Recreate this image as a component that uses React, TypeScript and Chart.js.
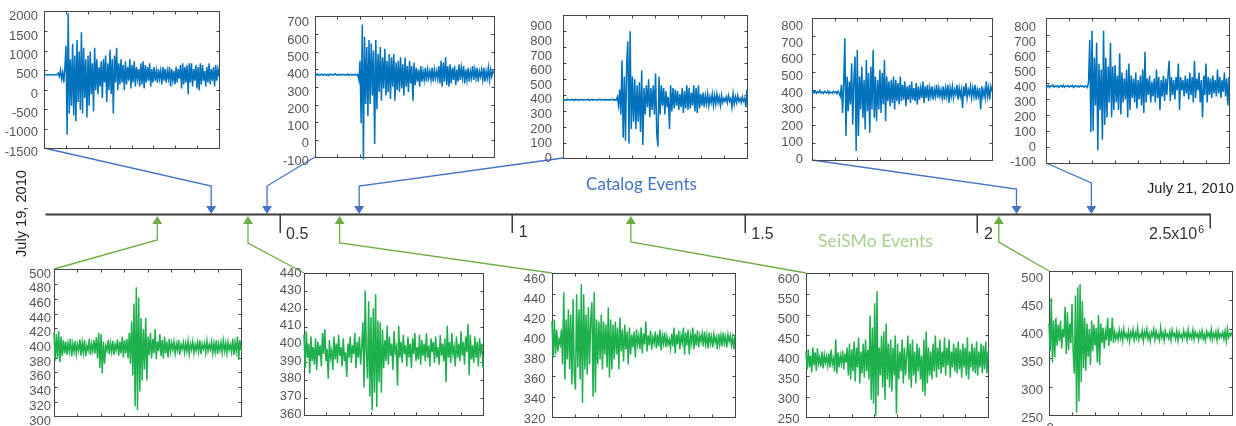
import React, { useEffect, useRef } from "react";
import { Chart, registerables } from "chart.js";

Chart.register(...registerables);

const PAGE_W = 1236;
const PAGE_H = 426;

// ---------------- Timeline data ----------------
const TIMELINE_MIN = 0;
const TIMELINE_MAX = 2.5e6;
const TIMELINE_TICKS = [0.5e6, 1e6, 1.5e6, 2e6, 2.5e6];
const TIMELINE_TICK_LABELS = ["0.5", "1", "1.5", "2", "2.5x10"];
const TIMELINE_EXPONENT = "6";
const CATALOG_EVENTS = [0.353e6, 0.473e6, 0.671e6, 2.084e6, 2.245e6];
const SEISMO_EVENTS = [0.237e6, 0.432e6, 0.629e6, 1.255e6, 2.046e6];
const CATALOG_LABEL = "Catalog Events";
const SEISMO_LABEL = "SeiSMo Events";
const START_DATE = "July 19, 2010";
const END_DATE = "July 21, 2010";

// ---------------- Waveforms: catalog events (top row) ----------------
const CATALOG_WAVE_1 = [
  500, 503, 497, 501, 499, 502, 498, 500, 504, 497,
  501, 499, 502, 540, 460, 620, 400, 560, 300, 700,
  1250, -1050, 2090, -500, 900, -300, 1300, -550, 1000, -700,
  1400, -200, 1100, -400, 1600, -500, 1200, -100, 900, -600,
  1000, -300, 1100, 0, 800, -450, 1200, 100, 900, 0,
  700, 200, 850, -100, 900, 300, 1000, -200, 800, 100,
  1150, 0, 900, -500, 1000, 300, 1200, 100, 800, 250,
  900, 300, 750, 100, 850, 250, 700, 350, 900, 150,
  750, 300, 850, 200, 700, 400, 650, 200, 800, 250,
  850, 150, 750, 300, 700, 350, 800, 200, 650, 300,
  700, 350, 600, 300, 650, 400, 600, 250, 700, 350,
  650, 300, 600, 400, 700, 200, 650, 350, 600, 250,
  700, 300, 650, 400, 750, 150, 800, 250, 700, 300,
  750, 0, 800, 300, 800, 200, 650, 350, 750, 150,
  700, 100, 800, 250, 750, 350, 600, 200, 700, 300,
  800, 250, 650, 350, 700, 200, 750, 350, 650, 450,
];
const CATALOG_WAVE_2 = [
  402, 398, 405, 396, 401, 399, 404, 397, 400, 403,
  398, 401, 396, 404, 399, 402, 397, 400, 405, 398,
  401, 399, 403, 396, 400, 402, 398, 401, 399, 404,
  397, 400, 402, 398, 401, 399, 403, 396, 400,
  370, 480, 120, 690, -90, 620, 230, 560, 160, 600, 230,
  580, 280, 540, 0, 600, 200, 520, 300, 560, 250,
  500, 320, 550, 280, 480, 300, 520, 260, 500, 330,
  520, 250, 470, 310, 480, 300, 500, 320, 460, 280,
  500, 330, 450, 300, 480, 350, 450, 250, 470, 340,
  440, 360, 430, 330, 450, 360, 420, 370, 440, 360,
  430, 380, 420, 370, 440, 360, 430, 380, 420, 375,
  450, 350, 480, 330, 470, 360, 500, 340, 450, 330,
  460, 350, 440, 370, 450, 340, 430, 360, 460, 370,
  440, 380, 450, 350, 430, 370, 440, 360, 420, 380,
  450, 370, 430, 380, 440, 360, 420, 390, 430, 370,
  440, 360, 420, 380, 440, 370, 430, 390, 420, 410,
];
const CATALOG_WAVE_3 = [
  405, 398, 402, 396, 404, 400, 397, 403, 399, 401,
  396, 404, 400, 398, 402, 397, 401, 403, 398, 400,
  402, 399, 404, 396, 400, 403, 398, 401, 399, 402,
  397, 401, 404, 398, 400, 402, 396, 403, 399, 401,
  398, 402, 400, 404, 397, 401, 399,
  420, 360, 470, 300, 670, 140, 560, 120, 640, 800,
  100, 870, 200, 560, 250, 540, 200, 500, 250, 520,
  180, 600, 90, 480, 300, 500, 350, 540, 280, 480,
  330, 500, 300, 580, 170, 80, 560, 300, 500, 360,
  480, 300, 460, 350, 420, 200, 500, 320, 480, 340,
  470, 360, 460, 330, 440, 350, 480, 310, 460, 340,
  500, 330, 480, 340, 450, 360, 500, 320, 480, 310,
  500, 340, 440, 360, 450, 350, 430, 370, 440, 360,
  420, 380, 440, 360, 430, 370, 440, 380, 420, 360,
  430, 380, 410, 390, 420, 380, 430, 390, 410, 350,
  440, 370, 420, 380, 430, 390, 410, 380, 420, 390,
  410, 350, 470,
];
const CATALOG_WAVE_4 = [
  405, 410, 400, 412, 398, 408, 402, 415, 400, 406,
  398, 410, 404, 400, 412, 396, 407, 403, 398, 410,
  402, 408, 395, 412, 400,
  380, 450, 280, 460, 730, 140, 500, 290, 470, 330,
  580, 210, 480, 620, 50, 660, 140, 500, 300, 560,
  250, 480, 180, 600, 290, 520, 160, 560, 300, 660,
  250, 500, 230, 480, 300, 540, 280, 520, 330, 600,
  230, 500, 350, 470, 320, 480, 340, 500, 300, 480,
  350, 460, 330, 500, 350, 450, 360, 470, 320, 440,
  360, 450, 340, 470, 360, 430, 350, 460, 330, 440,
  360, 430, 370, 470, 340, 440, 370, 450, 350, 430,
  380, 440, 360, 420, 380, 450, 370, 430, 380, 420,
  370, 440, 360, 430, 380, 450, 340, 430, 380, 440,
  370, 420, 390, 450, 360, 430, 380, 420, 310, 440,
  380, 460, 370, 420, 390, 440, 370, 430, 380, 450,
  360, 420, 380, 430, 300, 440, 380, 420, 370, 470,
  380, 430, 360, 440, 410,
];
const CATALOG_WAVE_5 = [
  410, 405, 415, 400, 412, 408, 418, 402, 410, 406,
  414, 400, 409, 412, 404, 416, 402, 410, 407, 413,
  403, 411, 406, 415, 400, 409, 413, 405, 410, 404,
  412, 406, 410, 402, 411, 408,
  400, 440, 720, 100, 780, 110, 600, 280, 700, -20,
  560, 250, 520, 50, 780, 150, 600, 200, 540, 300,
  700, 200, 540, 250, 550, 300, 480, 250, 630, 220,
  500, 300, 460, 320, 520, 200, 560, 250, 480, 330,
  460, 300, 500, 260, 450, 320, 480, 280, 520, 230,
  640, 300, 460, 350, 480, 300, 440, 340, 460, 300,
  520, 330, 470, 250, 450, 340, 480, 310, 460, 350,
  480, 580, 310, 470, 350, 450, 320, 470, 380, 560,
  250, 470, 380, 450, 340, 480, 360, 460, 320, 500,
  350, 470, 300, 580, 330, 460, 380, 500, 300, 450,
  200, 480, 350, 560, 300, 470, 350, 460, 330, 480,
  360, 450, 340, 520, 360, 470, 330, 450, 370, 500,
  340, 460, 280, 470,
];

// ---------------- Waveforms: SeiSMo events (bottom row) ----------------
const SEISMO_WAVE_1 = [
  420, 382, 418, 385, 422, 380, 415, 388,
  410, 392, 408, 390, 406, 395, 412, 388, 405, 394, 409, 391, 404,
  396, 411, 389, 407, 393, 410, 388, 402, 396, 412, 390, 405, 395, 410, 392,
  414, 385, 420, 372, 418, 365, 408, 378, 402,
  396, 410, 391, 406, 394, 409, 390, 404, 397, 411, 389, 408, 392, 415, 386, 410,
  392, 412, 385, 420, 378, 435, 362, 460, 320, 482, 315, 468, 340, 440, 355, 425,
  370, 440, 355, 415,
  390, 420, 385, 412, 392, 425, 384, 408, 395, 418, 388, 410, 385, 415, 392, 408,
  386, 412, 394, 406,
  397, 408, 392, 405, 396, 410, 390, 404, 398, 407, 393, 406, 395, 409, 391, 405,
  397, 408, 392, 404, 396, 407, 394, 410, 391, 405, 398, 406, 393, 409, 395, 404,
  397, 408, 392, 406, 394, 410, 391, 405, 396, 407, 393, 409, 395, 406, 392, 408,
  397, 404, 394, 412, 390, 407, 395, 415, 383, 410, 396,
];
const SEISMO_WAVE_2 = [
  405, 386, 407, 392, 400, 383, 404, 390, 398, 388,
  403, 385, 401, 393, 399, 387, 406, 394, 408, 390,
  397, 380, 402, 392, 396, 385, 404, 391, 400, 389,
  405, 393, 398, 387, 403, 390, 395, 381, 400, 392,
  404, 389, 399, 394, 406, 386, 401, 392, 404, 388,
  398, 412, 375, 430, 395, 380, 424, 370, 415, 362,
  420, 372, 428, 364, 413, 378, 412, 372, 408, 386,
  402, 390, 410, 388, 404, 393, 400, 385, 407, 395,
  398, 376, 410, 392, 401, 389, 405, 394, 399, 387,
  404, 392, 400, 386, 403, 394, 406, 390, 398, 391,
  405, 388, 402, 393, 400, 390, 406, 392, 399, 387,
  403, 395, 401, 389, 404, 392, 398, 388, 405, 393,
  400, 390, 403, 378, 410, 392, 401, 389, 406, 394,
  398, 387, 404, 392, 400, 390, 407, 393, 401, 388,
  404, 395, 411, 382, 405, 391, 399, 389, 404, 392,
  401, 387, 403, 395, 400, 386,
];
const SEISMO_WAVE_3 = [
  418, 382, 420, 385, 410, 388, 400,
  395, 410, 375, 447, 360, 420, 380, 430, 370, 425, 355, 440, 365,
  350, 445, 372, 430, 360, 455, 337, 445, 370, 425, 365, 432, 375, 420,
  437, 343, 447, 347, 420, 375, 418, 380, 425, 370, 418, 385, 415, 372,
  432, 362, 420, 370,
  415, 380, 418, 385, 412, 370, 422, 388, 410, 378, 415, 390, 408, 375, 412, 385, 405,
  392, 408, 382, 410, 395, 404, 390, 412, 386, 406, 395, 418, 388, 404, 394, 409,
  390, 402, 396, 408, 391, 405, 393, 410, 389, 404, 396, 407, 392, 403, 395, 400,
  391, 406, 393, 412, 386, 405, 395, 409, 390, 404, 397, 412, 385, 407, 394, 410,
  385, 404, 396, 412, 390, 406, 394, 409, 392, 404, 398, 406, 393, 408, 395, 404,
  391, 407, 396, 403, 392, 405, 397, 402, 390, 406, 395, 404, 393, 407, 396, 403,
  392, 405, 398, 404, 394, 402, 390, 405,
];
const SEISMO_WAVE_4 = [
  420, 375, 425, 380, 410, 368, 430, 385, 418, 372,
  428, 390, 405, 382, 420, 378, 412, 392, 408, 385,
  415, 380, 425, 388, 402, 370, 450, 365, 418, 380,
  410, 390, 422, 375, 415, 392,
  430, 360, 440, 350, 425, 370, 445, 345, 430, 380,
  455, 340, 420, 365, 440, 355, 450, 370, 425, 350,
  510, 300, 480, 290, 540, 260, 570, 310,
  430, 360, 460, 330, 470, 300, 490, 350, 440, 330,
  450, 320, 430, 360, 460, 265, 440, 350, 420, 370,
  450, 340, 430, 360, 410,
  460, 350, 440, 330, 450, 360, 420, 340, 440, 370,
  430, 350, 410, 320, 450, 310, 470, 340, 430, 360,
  420, 350, 440,
  370, 460, 355, 430, 375, 450, 365, 420, 380, 455,
  360, 430, 385, 450, 355, 420, 380, 440, 370, 430,
  365, 445, 375, 425, 355, 440, 380, 430, 360, 455,
  350, 420, 380, 440, 370, 430, 365, 445, 360, 420,
  380, 440, 365, 435, 375, 445, 365, 420,
];
const SEISMO_WAVE_5 = [
  420, 370, 465, 350, 425, 360, 430, 380, 418, 388, 425, 375, 410,
  395, 450, 365, 440, 372, 420, 385, 455, 370,
  330, 470, 260, 485, 280, 490, 315, 460, 340,
  430, 335, 420, 360, 410, 345, 425, 370, 418, 380, 412, 350, 435, 345, 420,
  385, 412, 375, 405, 390, 430, 380, 412, 388, 430, 385, 405, 392,
  402, 391, 408, 393, 405, 389, 410, 395, 401, 392, 406, 388, 404, 396, 409, 390,
  403, 394, 412, 391, 400, 395, 407, 389, 405, 396, 410, 392, 402, 388, 404, 397,
  409, 391, 406, 394, 400, 390, 412, 395, 403, 389, 407, 396, 401, 393, 405, 390,
  408, 397, 402, 392, 406, 389, 404, 395, 400, 391, 407, 396, 403, 390, 409, 394,
  401, 393, 408, 391, 405, 396, 402, 390, 404, 395, 407, 392, 400, 389, 406, 397,
  403, 393, 409, 391, 402, 395, 405, 390, 407, 394, 401, 396, 404, 392, 406, 389,
  410, 395, 402, 398, 405,
];

// y-axis [min, max, step] per panel
const CATALOG_Y_RANGES = [
  [-1500, 2000, 500],
  [-100, 700, 100],
  [0, 900, 100],
  [0, 800, 100],
  [-100, 800, 100],
];
const SEISMO_Y_RANGES = [
  [300, 500, 20],
  [360, 440, 10],
  [320, 460, 20],
  [250, 600, 50],
  [250, 500, 50],
];
const CATALOG_WAVES = [CATALOG_WAVE_1, CATALOG_WAVE_2, CATALOG_WAVE_3, CATALOG_WAVE_4, CATALOG_WAVE_5];
const SEISMO_WAVES = [SEISMO_WAVE_1, SEISMO_WAVE_2, SEISMO_WAVE_3, SEISMO_WAVE_4, SEISMO_WAVE_5];

// ---------------- Layout / style ----------------
type Frame = { l: number; t: number; r: number; b: number; labelTop: number; labelBottom: number; gap: number };
const TOP_LAYOUT: Frame[] = [
  { l: 44, t: 11, r: 219, b: 148, labelTop: 15, labelBottom: 154, gap: 6 },
  { l: 315, t: 16, r: 494, b: 157, labelTop: 21, labelBottom: 163, gap: 6 },
  { l: 563, t: 15, r: 747, b: 158, labelTop: 20, labelBottom: 165, gap: 11 },
  { l: 812, t: 18, r: 992, b: 160, labelTop: 22, labelBottom: 164, gap: 9 },
  { l: 1046, t: 18, r: 1229, b: 163, labelTop: 22, labelBottom: 168, gap: 10 },
];
const BOTTOM_LAYOUT: Frame[] = [
  { l: 54, t: 269, r: 241, b: 416, labelTop: 274, labelBottom: 421, gap: 3 },
  { l: 304, t: 273, r: 483, b: 415, labelTop: 273, labelBottom: 414, gap: 2.5 },
  { l: 552, t: 273, r: 735, b: 417, labelTop: 277, labelBottom: 422, gap: 6.5 },
  { l: 806, t: 273, r: 988, b: 417, labelTop: 277, labelBottom: 422, gap: 6.5 },
  { l: 1049, t: 271, r: 1232, b: 415, labelTop: 277, labelBottom: 420, gap: 6 },
];
const CATALOG_ELBOW_Y = [186, 186, 186, 189, 183];
const SEISMO_ELBOW_Y = [240, 243, 243, 242, 242];
const LINE_Y = 214.5;
const TL_LEFT = 47;
const TL_RIGHT = 1210;

const BLUE_WAVE = "#0072BD";
const GREEN_WAVE = "#1FB04E";
const CATALOG_COLOR = "#4472C4";
const SEISMO_COLOR = "#70AD47";
const SEISMO_TEXT = "#A9D18E";
const SANS = "'Liberation Sans', Arial, sans-serif";
const AXW = 50;
const PADT = 12;
const PADR = 6;

function fitSize(ctx: CanvasRenderingContext2D, text: string, family: string, target: number) {
  ctx.font = `20px ${family}`;
  const w = ctx.measureText(text).width;
  return (20 * target) / w;
}

function WavePanel(props: { values: number[]; range: number[]; color: string; frame: Frame; zeroLabel?: boolean }) {
  const { values, range, color, frame, zeroLabel } = props;
  const ref = useRef<HTMLCanvasElement | null>(null);
  const left = Math.round(frame.l) - AXW;
  const top = Math.round(frame.labelTop) - PADT;
  const width = Math.round(frame.r) - Math.round(frame.l) + AXW + PADR;
  const height = Math.round(frame.labelBottom) - Math.round(frame.labelTop) + 2 * PADT;

  useEffect(() => {
    const canvas = ref.current;
    if (!canvas) return;
    const [ymin, ymax, ystep] = range;
    const n = values.length;
    const framePlugin = {
      id: "matlabFrame",
      beforeDatasetsDraw(chart: any) {
        const ctx = chart.ctx as CanvasRenderingContext2D;
        const area = chart.chartArea;
        const xs = chart.scales.x;
        const ys = chart.scales.y;
        const fl = Math.round(frame.l) - left + 0.5;
        const fr = Math.round(frame.r) - left + 0.5;
        const ft = Math.round(frame.t) - top + 0.5;
        const fb = Math.round(frame.b) - top + 0.5;
        ctx.save();
        ctx.strokeStyle = "#454545";
        ctx.lineWidth = 1;
        ctx.strokeRect(fl, ft, fr - fl, fb - ft);
        ctx.beginPath();
        for (let k = 1; k < 8; k++) {
          const x = Math.round(xs.getPixelForValue((k * (n - 1)) / 8)) + 0.5;
          ctx.moveTo(x, ft);
          ctx.lineTo(x, ft + 3);
          ctx.moveTo(x, fb);
          ctx.lineTo(x, fb - 3);
        }
        for (let v = ymin + ystep; v < ymax - 1e-9; v += ystep) {
          const py = ys.getPixelForValue(v);
          const y = Math.round(ft + ((py - area.top) / (area.bottom - area.top)) * (fb - ft)) + 0.5;
          ctx.moveTo(fl, y);
          ctx.lineTo(fl + 3, y);
          ctx.moveTo(fr, y);
          ctx.lineTo(fr - 3, y);
        }
        ctx.stroke();
        ctx.restore();
      },
      afterDraw(chart: any) {
        if (!zeroLabel) return;
        const ctx = chart.ctx as CanvasRenderingContext2D;
        const xs = chart.scales.x;
        ctx.save();
        ctx.font = `13px ${SANS}`;
        ctx.fillStyle = "#555";
        ctx.textAlign = "center";
        ctx.textBaseline = "top";
        ctx.fillText("0", xs.getPixelForValue(0) + 1, Math.round(frame.b) - top + 7);
        ctx.restore();
      },
    };
    const chart = new Chart(canvas, {
      type: "line",
      data: {
        datasets: [
          {
            data: values.map((v, i) => ({ x: i, y: v })),
            borderColor: color,
            borderWidth: 1.5,
            pointRadius: 0,
            tension: 0,
            clip: false as any,
          },
        ],
      },
      options: {
        animation: false,
        responsive: false,
        maintainAspectRatio: false,
        events: [],
        layout: { padding: { left: 0, right: PADR, top: PADT, bottom: PADT } },
        plugins: { legend: { display: false }, tooltip: { enabled: false } },
        scales: {
          x: { type: "linear", min: 0, max: n - 1, display: false },
          y: {
            type: "linear",
            min: ymin,
            max: ymax,
            afterFit: (s: any) => {
              s.width = AXW;
            },
            grid: { display: false, drawTicks: false },
            border: { display: false },
            ticks: {
              stepSize: ystep,
              padding: frame.gap,
              autoSkip: false,
              color: "#555",
              font: { family: "'Liberation Sans', Arial, sans-serif", size: 13 },
              callback: (v: any) => String(v),
            },
          },
        },
      } as any,
      plugins: [framePlugin],
    });
    return () => chart.destroy();
  }, []);

  return (
    <canvas
      ref={ref}
      width={width}
      height={height}
      style={{ position: "absolute", left, top, width, height }}
    />
  );
}

function Timeline() {
  const ref = useRef<HTMLCanvasElement | null>(null);
  useEffect(() => {
    const canvas = ref.current;
    if (!canvas) return;
    const timelinePlugin = {
      id: "timeline",
      afterDraw(chart: any) {
        const ctx = chart.ctx as CanvasRenderingContext2D;
        const xs = chart.scales.x;
        const px = (v: number) => xs.getPixelForValue(v);
        const AW = 10;
        const AH = 8;
        ctx.save();
        // catalog connectors (from top panels down to the timeline)
        CATALOG_EVENTS.forEach((ev, i) => {
          const f = TOP_LAYOUT[i];
          const x = px(ev);
          const tip = LINE_Y - 0.5;
          ctx.strokeStyle = CATALOG_COLOR;
          ctx.lineWidth = 1.3;
          ctx.beginPath();
          ctx.moveTo(f.l, f.b);
          ctx.lineTo(x, CATALOG_ELBOW_Y[i]);
          ctx.lineTo(x, tip - AH + 1);
          ctx.stroke();
          ctx.fillStyle = CATALOG_COLOR;
          ctx.beginPath();
          ctx.moveTo(x - AW / 2, tip - AH);
          ctx.lineTo(x + AW / 2, tip - AH);
          ctx.lineTo(x, tip);
          ctx.closePath();
          ctx.fill();
        });
        // seismo connectors (from bottom panels up to the timeline)
        SEISMO_EVENTS.forEach((ev, i) => {
          const f = BOTTOM_LAYOUT[i];
          const x = px(ev);
          const tip = LINE_Y + 1.5;
          ctx.strokeStyle = SEISMO_COLOR;
          ctx.lineWidth = 1.3;
          ctx.beginPath();
          ctx.moveTo(f.l, f.t);
          ctx.lineTo(x, SEISMO_ELBOW_Y[i]);
          ctx.lineTo(x, tip + AH - 1);
          ctx.stroke();
          ctx.fillStyle = SEISMO_COLOR;
          ctx.beginPath();
          ctx.moveTo(x - AW / 2, tip + AH);
          ctx.lineTo(x + AW / 2, tip + AH);
          ctx.lineTo(x, tip);
          ctx.closePath();
          ctx.fill();
        });
        // timeline axis
        ctx.strokeStyle = "#3a3a3a";
        ctx.lineWidth = 1.8;
        ctx.beginPath();
        ctx.moveTo(px(TIMELINE_MIN) - 1.5, LINE_Y);
        ctx.lineTo(px(TIMELINE_MAX) + 1, LINE_Y);
        ctx.stroke();
        ctx.lineWidth = 1.5;
        TIMELINE_TICKS.forEach((t, i) => {
          const x = Math.round(px(t)) + 0.25;
          ctx.beginPath();
          ctx.moveTo(x, LINE_Y);
          ctx.lineTo(x, LINE_Y + (i === TIMELINE_TICKS.length - 1 ? 14 : 18.5));
          ctx.stroke();
        });
        // tick labels
        ctx.fillStyle = "#333";
        ctx.textBaseline = "middle";
        TIMELINE_TICKS.forEach((t, i) => {
          const x = px(t);
          const label = TIMELINE_TICK_LABELS[i];
          if (i === TIMELINE_TICKS.length - 1) {
            ctx.font = `10.5px ${SANS}`;
            const ws = ctx.measureText(TIMELINE_EXPONENT).width;
            ctx.textAlign = "left";
            ctx.fillText(TIMELINE_EXPONENT, x - 6 - ws, 230.5);
            ctx.font = `16px ${SANS}`;
            ctx.textAlign = "right";
            ctx.fillText(label, x - 7 - ws, 234.5);
          } else {
            ctx.font = `16px ${SANS}`;
            ctx.textAlign = "left";
            ctx.fillText(label, x + 6.5, i === 1 ? 233 : 234.5);
          }
        });
        // series labels
        const labelFamily = "Lato, 'Open Sans', sans-serif";
        ctx.textAlign = "center";
        ctx.font = `${fitSize(ctx, CATALOG_LABEL, labelFamily, 111)}px ${labelFamily}`;
        ctx.fillStyle = CATALOG_COLOR;
        ctx.fillText(CATALOG_LABEL, 641.5, 185);
        ctx.font = `${fitSize(ctx, SEISMO_LABEL, labelFamily, 115)}px ${labelFamily}`;
        ctx.fillStyle = SEISMO_TEXT;
        ctx.fillText(SEISMO_LABEL, 875.5, 241);
        // dates
        ctx.fillStyle = "#1e1e1e";
        ctx.font = `${fitSize(ctx, END_DATE, SANS, 87)}px ${SANS}`;
        ctx.textAlign = "left";
        ctx.fillText(END_DATE, 1147, 189);
        ctx.save();
        ctx.translate(22, 213.5);
        ctx.rotate(-Math.PI / 2);
        ctx.textAlign = "center";
        ctx.font = `${fitSize(ctx, START_DATE, SANS, 87)}px ${SANS}`;
        ctx.fillText(START_DATE, 0, 0);
        ctx.restore();
        ctx.restore();
      },
    };
    const chart = new Chart(canvas, {
      type: "scatter",
      data: { datasets: [] },
      options: {
        animation: false,
        responsive: false,
        maintainAspectRatio: false,
        events: [],
        layout: { padding: { left: TL_LEFT, right: PAGE_W - TL_RIGHT, top: 0, bottom: 0 } },
        plugins: { legend: { display: false }, tooltip: { enabled: false } },
        scales: {
          x: { type: "linear", min: TIMELINE_MIN, max: TIMELINE_MAX, display: false },
          y: { type: "linear", min: 0, max: 1, display: false },
        },
      } as any,
      plugins: [timelinePlugin],
    });
    return () => chart.destroy();
  }, []);
  return (
    <canvas
      ref={ref}
      width={PAGE_W}
      height={PAGE_H}
      style={{ position: "absolute", left: 0, top: 0, width: PAGE_W, height: PAGE_H }}
    />
  );
}

export default function App() {
  return (
    <div
      style={{
        position: "fixed",
        left: 0,
        top: 0,
        width: PAGE_W,
        height: PAGE_H,
        overflow: "hidden",
        background: "#fff",
      }}
    >
      <Timeline />
      {CATALOG_WAVES.map((w, i) => (
        <WavePanel key={"c" + i} values={w} range={CATALOG_Y_RANGES[i]} color={BLUE_WAVE} frame={TOP_LAYOUT[i]} />
      ))}
      {SEISMO_WAVES.map((w, i) => (
        <WavePanel
          key={"s" + i}
          values={w}
          range={SEISMO_Y_RANGES[i]}
          color={GREEN_WAVE}
          frame={BOTTOM_LAYOUT[i]}
          zeroLabel={i === 4}
        />
      ))}
    </div>
  );
}
